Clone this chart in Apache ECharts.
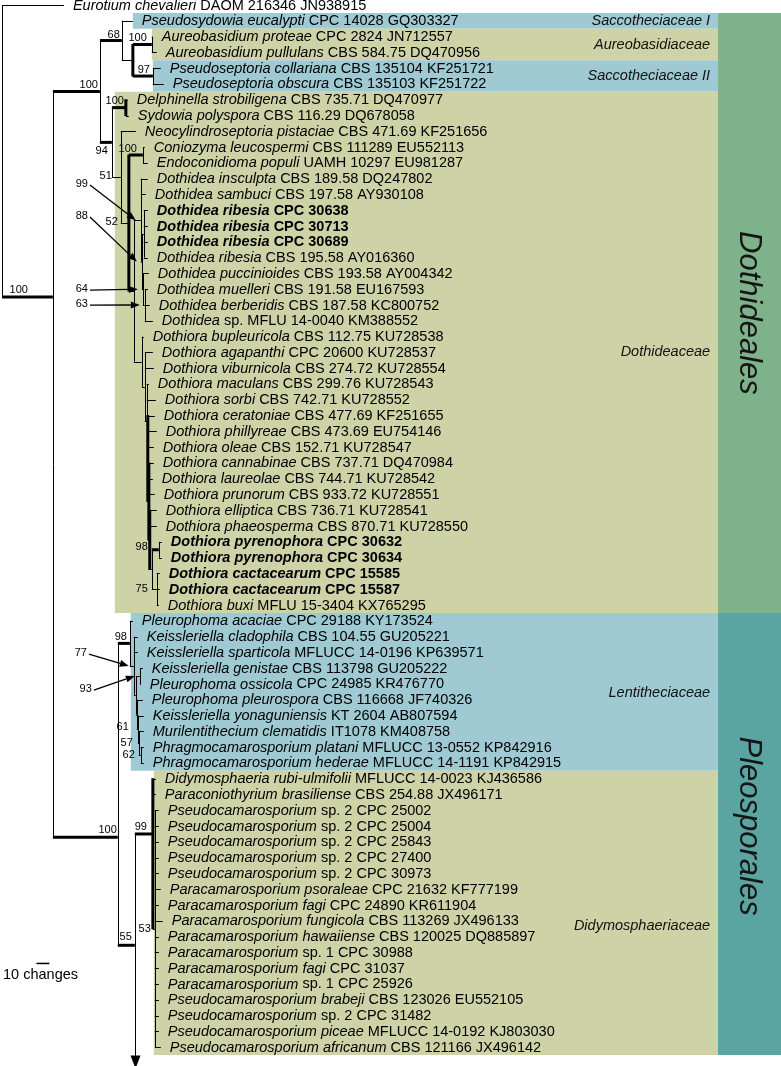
<!DOCTYPE html>
<html><head><meta charset="utf-8">
<script src="https://cdn.jsdelivr.net/npm/echarts@6/dist/echarts.min.js"></script>
<style>html,body{margin:0;padding:0;background:#fff}#c{width:781px;height:1066px}</style>
</head><body><div id="c"></div>
<script>
// ================= DATA =================
// taxa: [italic part, rest of label]
const taxa = [
 ['Eurotium chevalieri','DAOM 216346 JN938915'],
 ['Pseudosydowia eucalypti','CPC 14028 GQ303327'],
 ['Aureobasidium proteae','CPC 2824 JN712557'],
 ['Aureobasidium pullulans','CBS 584.75 DQ470956'],
 ['Pseudoseptoria collariana','CBS 135104 KF251721'],
 ['Pseudoseptoria obscura','CBS 135103 KF251722'],
 ['Delphinella strobiligena','CBS 735.71 DQ470977'],
 ['Sydowia polyspora','CBS 116.29 DQ678058'],
 ['Neocylindroseptoria pistaciae','CBS 471.69 KF251656'],
 ['Coniozyma leucospermi','CBS 111289 EU552113'],
 ['Endoconidioma populi','UAMH 10297 EU981287'],
 ['Dothidea insculpta','CBS 189.58 DQ247802'],
 ['Dothidea sambuci','CBS 197.58 AY930108'],
 ['Dothidea ribesia','CPC 30638'],
 ['Dothidea ribesia','CPC 30713'],
 ['Dothidea ribesia','CPC 30689'],
 ['Dothidea ribesia','CBS 195.58 AY016360'],
 ['Dothidea puccinioides','CBS 193.58 AY004342'],
 ['Dothidea muelleri','CBS 191.58 EU167593'],
 ['Dothidea berberidis','CBS 187.58 KC800752'],
 ['Dothidea','sp. MFLU 14-0040 KM388552'],
 ['Dothiora bupleuricola','CBS 112.75 KU728538'],
 ['Dothiora agapanthi','CPC 20600 KU728537'],
 ['Dothiora viburnicola','CBS 274.72 KU728554'],
 ['Dothiora maculans','CBS 299.76 KU728543'],
 ['Dothiora sorbi','CBS 742.71 KU728552'],
 ['Dothiora ceratoniae','CBS 477.69 KF251655'],
 ['Dothiora phillyreae','CBS 473.69 EU754146'],
 ['Dothiora oleae','CBS 152.71 KU728547'],
 ['Dothiora cannabinae','CBS 737.71 DQ470984'],
 ['Dothiora laureolae','CBS 744.71 KU728542'],
 ['Dothiora prunorum','CBS 933.72 KU728551'],
 ['Dothiora elliptica','CBS 736.71 KU728541'],
 ['Dothiora phaeosperma','CBS 870.71 KU728550'],
 ['Dothiora pyrenophora','CPC 30632'],
 ['Dothiora pyrenophora','CPC 30634'],
 ['Dothiora cactacearum','CPC 15585'],
 ['Dothiora cactacearum','CPC 15587'],
 ['Dothiora buxi','MFLU 15-3404 KX765295'],
 ['Pleurophoma acaciae','CPC 29188 KY173524'],
 ['Keissleriella cladophila','CBS 104.55 GU205221'],
 ['Keissleriella sparticola','MFLUCC 14-0196 KP639571'],
 ['Keissleriella genistae','CBS 113798 GU205222'],
 ['Pleurophoma ossicola','CPC 24985 KR476770'],
 ['Pleurophoma pleurospora','CBS 116668 JF740326'],
 ['Keissleriella yonaguniensis','KT 2604 AB807594'],
 ['Murilentithecium clematidis','IT1078 KM408758'],
 ['Phragmocamarosporium platani','MFLUCC 13-0552 KP842916'],
 ['Phragmocamarosporium hederae','MFLUCC 14-1191 KP842915'],
 ['Didymosphaeria rubi-ulmifolii','MFLUCC 14-0023 KJ436586'],
 ['Paraconiothyrium brasiliense','CBS 254.88 JX496171'],
 ['Pseudocamarosporium','sp. 2 CPC 25002'],
 ['Pseudocamarosporium','sp. 2 CPC 25004'],
 ['Pseudocamarosporium','sp. 2 CPC 25843'],
 ['Pseudocamarosporium','sp. 2 CPC 27400'],
 ['Pseudocamarosporium','sp. 2 CPC 30973'],
 ['Paracamarosporium psoraleae','CPC 21632 KF777199'],
 ['Paracamarosporium fagi','CPC 24890 KR611904'],
 ['Paracamarosporium fungicola','CBS 113269 JX496133'],
 ['Paracamarosporium hawaiiense','CBS 120025 DQ885897'],
 ['Paracamarosporium','sp. 1 CPC 30988'],
 ['Paracamarosporium fagi','CPC 31037'],
 ['Paracamarosporium','sp. 1 CPC 25926'],
 ['Pseudocamarosporium brabeji','CBS 123026 EU552105'],
 ['Pseudocamarosporium','sp. 2 CPC 31482'],
 ['Pseudocamarosporium piceae','MFLUCC 14-0192 KJ803030'],
 ['Pseudocamarosporium africanum','CBS 121166 JX496142']
];
// new isolates (printed in bold)
const newIsolates = [13,14,15,34,35,36,37];

// tip depth of each taxon (changes from root)
const tipDepth = [
 47.7,100.8,116.2,119.2,122.3,124.6,96.9,97.7,103.1,110.0,
 112.3,112.3,110.8,112.3,112.3,112.3,112.3,113.1,112.3,113.8,
 116.2,109.2,116.2,116.9,113.1,118.5,117.7,119.2,116.9,116.9,
 116.2,117.7,119.2,119.2,123.1,123.1,121.5,121.5,120.8,100.8,
 104.6,104.6,108.5,106.9,108.5,109.2,109.2,109.2,109.2,118.5,
 118.5,120.8,120.8,120.8,120.8,120.8,122.3,120.8,123.8,120.8,
 120.8,120.8,120.8,120.8,120.8,120.8,122.3
];

// internal nodes: [id, depth (changes from root), children]
const nodes = [
 ['R',0,[0,'X']],
 ['X',39.2,['D','P']],
 ['D',75.4,['N68','N94']],
 ['N68',92.3,[1,'AS']],
 ['AS',100.8,['AU','PS']],
 ['AU',115.4,[2,3]],
 ['PS',116.2,[4,5]],
 ['N94',84.6,['DS','N51']],
 ['DS',95.4,[6,7]],
 ['N51',91.5,[8,'N52']],
 ['N52',97.7,['CE','NDD']],
 ['CE',108.5,[9,10]],
 ['NDD',101.5,['DT','DO']],
 ['DT',106.9,[11,12,'D88']],
 ['D88',107.7,['RB','N64']],
 ['RB',109.2,[13,14,15,16]],
 ['N64',108.5,[17,'N63']],
 ['N63',110.0,[18,19,20]],
 ['DO',107.7,[21,'DO2']],
 ['DO2',110.0,[22,23,'DO3']],
 ['DO3',111.5,[24,25,'DO4']],
 ['DO4',112.3,[26,27,28,'DO5']],
 ['DO5',113.1,[29,30,31,'DO6']],
 ['DO6',113.8,[32,33,'DO7']],
 ['DO7',115.4,['PY','C75']],
 ['PY',120.8,[34,35]],
 ['C75',119.2,[36,37,38]],
 ['P',89.2,['L98','N55']],
 ['L98',98.5,[39,'N77']],
 ['N77',101.5,[40,41,'X93']],
 ['X93',103.1,['N93','NR']],
 ['N93',106.2,[42,43]],
 ['NR',103.8,[44,'N61']],
 ['N61',104.6,[45,'N57']],
 ['N57',105.4,[46,'N62']],
 ['N62',106.9,[47,48]],
 ['N55',102.3,['N99','TR']],
 ['TR',102.3,[]],
 ['N99',116.2,[49,50,'N53']],
 ['N53',117.7,[51,52,53,54,55,56,57,58,59,60,61,62,63,64,65,66]]
];
// node rows read from the figure where they are not centred on their children
const fixedRow = {X:18.5, P:52.7, N99:52.5, TR:66.6};

// support values written next to branches
const supports = [
 ['X','100'],['D','100'],['N68','68'],['AU','100'],['PS','97'],['DS','100'],
 ['N94','94'],['N51','51'],['N52','52'],['CE','100'],['PY','98'],['C75','75'],
 ['P','100'],['L98','98'],['N61','61'],['N57','57'],['N62','62'],
 ['N99','99'],['N55','55'],['N53','53']
];
// support values connected with an arrow
const arrowSupports = [['DT','99'],['D88','88'],['N64','64'],['N63','63'],['N77','77'],['N93','93']];

// families: [name, first row, last row]
const families = [
 ['Saccotheciaceae I',0.5,1.5],
 ['Aureobasidiaceae',1.5,3.5],
 ['Saccotheciaceae II',3.5,5.5],
 ['Dothideaceae',5.5,38.5],
 ['Lentitheciaceae',38.5,48.5],
 ['Didymosphaeriaceae',48.5,66.5]
];
const orders = [['Dothideales',0.5,38.5],['Pleosporales',38.5,66.5]];
const scaleBar = {length:10, label:'10 changes'};

// ================= LAYOUT / STYLE =================
const FONT = '"Liberation Sans", Arial, Helvetica, sans-serif';
const thickH = ['X','D','N68','AU','PS','DS','N94','CE','PY','P','L98','N55','N99'];
const thickV = ['AS','DS','N52','DO4','DO5','DO6','N99'];
const familyLeft = {'Saccotheciaceae I':100.8,'Aureobasidiaceae':115.4,'Saccotheciaceae II':116.2,
  'Dothideaceae':86.9,'Lentitheciaceae':99.2,'Didymosphaeriaceae':116.9};
const familyLabelRow = {'Saccotheciaceae I':1,'Aureobasidiaceae':2.5,'Saccotheciaceae II':4.5,
  'Dothideaceae':22,'Lentitheciaceae':43.6,'Didymosphaeriaceae':58.3};
const familyColor = {'Saccotheciaceae I':'#a0cad3','Aureobasidiaceae':'#cdd3a7','Saccotheciaceae II':'#a0cad3',
  'Dothideaceae':'#cdd3a7','Lentitheciaceae':'#a0cad3','Didymosphaeriaceae':'#cdd3a7'};
const orderColor = {'Dothideales':'#7eb28a','Pleosporales':'#5aa4a1'};
const orderLabelRow = {'Dothideales':19.5,'Pleosporales':52.0};
const BOX_RIGHT = 551.5, ORDER_RIGHT = 600, FAMILY_TEXT_RIGHT = 545.4, ORDER_TEXT_X = 575.4;
// support label offsets (px) from node: [dx of right edge, dy of centre]
const supportOffset = {X:[-25,-7],D:[-2,-6],N68:[-2,-6],AU:[-5,-7],PS:[-3,-6],DS:[-2,-7],
  N94:[-4,9],N51:[-9,-1],N52:[-11,-1],CE:[-6,-6],PY:[-11,-3],C75:[-9,0],P:[-1,-7],L98:[-3,-6],
  N61:[-9,-2],N57:[-6,0],N62:[-6,0],N99:[-6,-7],N55:[-3,-8],N53:[-4,0]};
// arrow-label anchor (depth, row) of right edge/centre
const arrowLabelAt = {DT:[66.2,11.34],D88:[66.2,13.36],N64:[66.2,17.99],N63:[66.2,18.94],
  N77:[65.4,41.04],N93:[69.2,43.32]};
const scaleBarAt = [26.5,60.7], scaleTextAt = [0.8,61.45];

// ================= TREE LAYOUT =================
const nodeMap = {};
nodes.forEach(([id,d,kids]) => nodeMap[id] = {d, kids});
const rowCache = {};
function rowOf(r){
  if (typeof r === 'number') return r;
  if (r in rowCache) return rowCache[r];
  let y;
  if (r in fixedRow) y = fixedRow[r];
  else { const k = nodeMap[r].kids; y = (rowOf(k[0]) + rowOf(k[k.length-1]))/2; }
  return rowCache[r] = y;
}
function depthOf(r){ return typeof r === 'number' ? tipDepth[r] : nodeMap[r].d; }
const segs = [];
nodes.forEach(([id,d,kids]) => {
  if (!kids.length) return;
  const ys = kids.map(rowOf);
  segs.push([d, Math.min(...ys), d, Math.max(...ys), thickV.includes(id) ? 3 : 1]);
  kids.forEach(k => {
    const kd = depthOf(k);
    if (kd > d) segs.push([d, rowOf(k), kd, rowOf(k), thickH.includes(k) ? 3 : 1]);
  });
});

// ================= CHART =================
const chart = echarts.init(document.getElementById('c'), null, {renderer:'canvas'});
const base = {type:'custom', coordinateSystem:'cartesian2d', silent:true, clip:false, animation:false};

function arrowHead(tip, from, len, half){
  const dx = tip[0]-from[0], dy = tip[1]-from[1], L = Math.hypot(dx,dy) || 1;
  const ux = dx/L, uy = dy/L, bx = tip[0]-ux*len, by = tip[1]-uy*len;
  return [[tip[0],tip[1]],[bx-uy*half, by+ux*half],[bx+uy*half, by-ux*half]];
}

const boxData = families.map(f => [familyLeft[f[0]], f[1], BOX_RIGHT, f[2]])
  .concat(orders.map(o => [BOX_RIGHT, o[1], ORDER_RIGHT, o[2]]));
const boxNames = families.map(f=>f[0]).concat(orders.map(o=>o[0]));

const option = {
  animation:false,
  grid:{left:2, top:5, width:780, height:15.79*66},
  xAxis:{type:'value', min:0, max:600, show:false},
  yAxis:{type:'value', min:0, max:66, inverse:true, show:false},
  series:[
    Object.assign({}, base, {
      name:'boxes', data: boxData, encode:{x:[0,2], y:[1,3]},
      renderItem(params, api){
        const a = api.coord([api.value(0), api.value(1)]), b = api.coord([api.value(2), api.value(3)]);
        const nm = boxNames[params.dataIndex];
        return {type:'rect', shape:{x:a[0], y:a[1], width:b[0]-a[0], height:b[1]-a[1]},
          style:{fill: familyColor[nm] || orderColor[nm]}};
      }
    }),
    Object.assign({}, base, {
      name:'familyLabels', data: families.map(f => [FAMILY_TEXT_RIGHT, familyLabelRow[f[0]]]), encode:{x:0,y:1},
      renderItem(params, api){
        const p = api.coord([api.value(0), api.value(1)]);
        return {type:'text', x:p[0], y:p[1], style:{text: families[params.dataIndex][0], fill:'#111',
          fontSize:14.5, fontStyle:'italic', fontFamily:FONT, align:'right', verticalAlign:'middle'}};
      }
    }),
    Object.assign({}, base, {
      name:'orderLabels', data: orders.map(o => [ORDER_TEXT_X, orderLabelRow[o[0]]]), encode:{x:0,y:1},
      renderItem(params, api){
        const p = api.coord([api.value(0), api.value(1)]);
        return {type:'text', x:p[0], y:p[1], rotation:-Math.PI/2, style:{text: orders[params.dataIndex][0], fill:'#151515',
          fontSize:31, fontStyle:'italic', fontFamily:FONT, align:'center', verticalAlign:'middle'}};
      }
    }),
    Object.assign({}, base, {
      name:'branches', data: segs, encode:{x:[0,2], y:[1,3]},
      renderItem(params, api){
        const a = api.coord([api.value(0), api.value(1)]), b = api.coord([api.value(2), api.value(3)]);
        const w = api.value(4);
        const vertical = Math.abs(a[0]-b[0]) < 0.01;
        let x1=a[0], y1=a[1], x2=b[0], y2=b[1];
        if (w === 1) { if (vertical) { x1 = x2 = Math.round(x1)+0.5; } else { y1 = y2 = Math.round(y1)+0.5; } }
        if (vertical && w > 1) { y1 -= 0.5; y2 += 0.5; }
        return {type:'line', shape:{x1,y1,x2,y2}, style:{stroke:'#000', lineWidth:w}};
      }
    }),
    Object.assign({}, base, {
      name:'truncation', data: [[nodeMap.TR.d, rowOf('TR')]], encode:{x:0,y:1},
      renderItem(params, api){
        const p = api.coord([api.value(0), api.value(1)]);
        const x = Math.round(p[0])+0.5;
        return {type:'polygon', shape:{points:[[x, p[1]+12],[x-5, p[1]-1],[x+5, p[1]-1]]}, style:{fill:'#000'}};
      }
    }),
    Object.assign({}, base, {
      name:'taxa', data: taxa.map((t,i) => [tipDepth[i], i]), encode:{x:0,y:1},
      renderItem(params, api){
        const i = params.dataIndex, p = api.coord([api.value(0), api.value(1)]);
        const bold = newIsolates.includes(i) ? 'bold' : 'normal';
        const t = taxa[i];
        return {type:'text', x:p[0]+9, y:p[1]+0.5, style:{
          text:'{a|' + t[0] + ' }{b|' + t[1] + '}',
          rich:{
            a:{fontStyle:'italic', fontWeight:bold, fontSize:14.5, fontFamily:FONT, fill:'#000'},
            b:{fontStyle:'normal', fontWeight:bold, fontSize:14.5, fontFamily:FONT, fill:'#000'}
          },
          align:'left', verticalAlign:'middle'}};
      }
    }),
    Object.assign({}, base, {
      name:'supports', data: supports.map(s => [depthOf(s[0]), rowOf(s[0])]), encode:{x:0,y:1},
      renderItem(params, api){
        const s = supports[params.dataIndex], p = api.coord([api.value(0), api.value(1)]);
        const o = supportOffset[s[0]] || [-2,-6];
        return {type:'text', x:p[0]+o[0], y:p[1]+o[1], style:{text:s[1], fill:'#000', fontSize:11,
          fontFamily:FONT, align:'right', verticalAlign:'middle'}};
      }
    }),
    Object.assign({}, base, {
      name:'arrowSupports',
      data: arrowSupports.map(s => [arrowLabelAt[s[0]][0], arrowLabelAt[s[0]][1], depthOf(s[0]), rowOf(s[0])]),
      encode:{x:[0,2], y:[1,3]},
      renderItem(params, api){
        const s = arrowSupports[params.dataIndex];
        const l = api.coord([api.value(0), api.value(1)]), t0 = api.coord([api.value(2), api.value(3)]);
        const tip = [t0[0]-5, t0[1]];
        const start = [l[0]+2, l[1]+1];
        const head = arrowHead(tip, start, 9, 3.5);
        const bx = (head[1][0]+head[2][0])/2, by = (head[1][1]+head[2][1])/2;
        return {type:'group', children:[
          {type:'text', x:l[0], y:l[1], style:{text:s[1], fill:'#000', fontSize:11, fontFamily:FONT, align:'right', verticalAlign:'middle'}},
          {type:'line', shape:{x1:start[0], y1:start[1], x2:bx, y2:by}, style:{stroke:'#000', lineWidth:1.3}},
          {type:'polygon', shape:{points:head}, style:{fill:'#000'}}
        ]};
      }
    }),
    Object.assign({}, base, {
      name:'scale', data: [[scaleBarAt[0], scaleBarAt[1], scaleBarAt[0]+scaleBar.length, scaleBarAt[1]]], encode:{x:[0,2], y:[1,3]},
      renderItem(params, api){
        const a = api.coord([api.value(0), api.value(1)]), b = api.coord([api.value(2), api.value(3)]);
        const tp = api.coord(scaleTextAt);
        return {type:'group', children:[
          {type:'line', shape:{x1:a[0], y1:a[1], x2:b[0], y2:b[1]}, style:{stroke:'#000', lineWidth:1.5}},
          {type:'text', x:tp[0], y:tp[1], style:{text:scaleBar.label, fill:'#000', fontSize:14.5, fontFamily:FONT, align:'left', verticalAlign:'middle'}}
        ]};
      }
    })
  ]
};
chart.setOption(option);
</script>
</body></html>
